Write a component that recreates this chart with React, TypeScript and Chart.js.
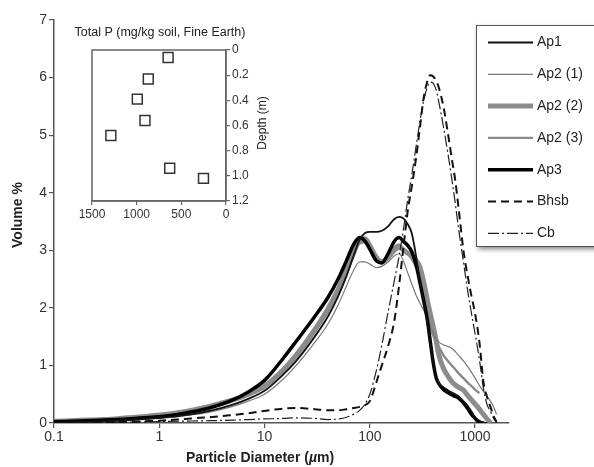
import React, { useEffect, useRef } from 'react';
import { Chart, registerables } from 'chart.js';

Chart.register(...registerables);

const FONT = '"Liberation Sans", Arial, Helvetica, sans-serif';

// Particle diameter (µm)
const diameters = [0.1, 0.2, 0.3, 0.5, 0.7, 1, 1.5, 2, 3, 5, 7, 10, 15, 20, 30, 40, 50, 60, 70, 80, 90, 100, 115, 130, 150, 170, 190, 210, 230, 250, 275, 300, 325, 350, 375, 400, 425, 450, 500, 550, 600, 650, 700, 775, 850, 925, 1000, 1100, 1200, 1300, 1400, 1500, 1600, 1800];

// Volume % per horizon
const ap1 = [0.01, 0.02, 0.03, 0.05, 0.07, 0.09, 0.12, 0.15, 0.21, 0.32, 0.42, 0.56, 0.84, 1.08, 1.5, 1.85, 2.2, 2.55, 2.9, 3.18, 3.3, 3.32, 3.32, 3.34, 3.42, 3.54, 3.58, 3.55, 3.45, 3.3, 2.9, 2.43, 2.1, 1.78, 1.4, 1.05, 0.8, 0.7, 0.62, 0.57, 0.53, 0.5, 0.46, 0.38, 0.3, 0.2, 0.1, 0.04, 0.01, 0, null, null, null, null];
const ap2a = [0.01, 0.02, 0.03, 0.04, 0.06, 0.08, 0.11, 0.14, 0.19, 0.29, 0.38, 0.5, 0.76, 1.0, 1.4, 1.72, 2.05, 2.38, 2.65, 2.8, 2.8, 2.76, 2.7, 2.72, 2.8, 2.9, 2.94, 2.8, 2.6, 2.42, 2.22, 2.08, 1.96, 1.84, 1.7, 1.57, 1.47, 1.41, 1.36, 1.33, 1.3, 1.24, 1.17, 1.08, 0.98, 0.88, 0.78, 0.65, 0.55, 0.46, 0.38, 0.28, 0.15, null];
const ap2b = [0.03, 0.05, 0.06, 0.09, 0.11, 0.14, 0.18, 0.22, 0.29, 0.4, 0.5, 0.64, 0.92, 1.18, 1.62, 1.98, 2.32, 2.65, 2.95, 3.18, 3.2, 3.08, 2.88, 2.8, 2.88, 3.0, 3.05, 3.0, 2.95, 2.9, 2.82, 2.7, 2.45, 2.15, 1.9, 1.68, 1.45, 1.2, 0.95, 0.82, 0.72, 0.66, 0.62, 0.57, 0.48, 0.4, 0.33, 0.24, 0.15, 0.07, 0, null, null, null];
const ap2c = [0.02, 0.04, 0.05, 0.08, 0.1, 0.13, 0.17, 0.21, 0.27, 0.38, 0.48, 0.62, 0.9, 1.15, 1.58, 1.94, 2.28, 2.62, 2.92, 3.12, 3.14, 3.04, 2.86, 2.82, 2.92, 3.05, 3.1, 3.02, 2.95, 2.85, 2.7, 2.5, 2.2, 1.9, 1.67, 1.52, 1.42, 1.33, 1.18, 1.08, 1.0, 0.93, 0.86, 0.78, 0.7, 0.64, 0.58, 0.52, null, null, null, null, null, null];
const ap3 = [0.02, 0.04, 0.05, 0.07, 0.09, 0.11, 0.15, 0.19, 0.26, 0.4, 0.54, 0.74, 1.12, 1.42, 1.85, 2.18, 2.5, 2.82, 3.1, 3.22, 3.16, 3.02, 2.82, 2.78, 2.95, 3.15, 3.22, 3.15, 3.08, 2.98, 2.75, 2.43, 2.12, 1.82, 1.42, 1.05, 0.8, 0.69, 0.58, 0.53, 0.49, 0.46, 0.43, 0.35, 0.25, 0.15, 0.08, 0.01, 0, null, null, null, null, null];
const bhsb = [0, 0.01, 0.015, 0.02, 0.03, 0.04, 0.06, 0.08, 0.1, 0.14, 0.17, 0.21, 0.25, 0.26, 0.24, 0.22, 0.22, 0.24, 0.26, 0.28, 0.31, 0.38, 0.7, 1.0, 1.35, 1.75, 2.4, 3.1, 3.7, 4.1, 4.6, 5.15, 5.65, 5.92, 6.04, 6.02, 5.95, 5.84, 5.5, 5.05, 4.6, 4.2, 3.7, 3.0, 2.55, 2.2, 1.9, 1.4, 0.72, 0.45, 0.28, 0.12, 0.02, null];
const cb = [0, 0.005, 0.01, 0.015, 0.02, 0.025, 0.03, 0.035, 0.04, 0.05, 0.06, 0.07, 0.08, 0.09, 0.08, 0.06, 0.07, 0.1, 0.15, 0.22, 0.33, 0.5, 0.9, 1.35, 1.95, 2.45, 2.9, 3.4, 3.9, 4.3, 4.8, 5.25, 5.6, 5.82, 5.92, 5.9, 5.8, 5.6, 5.15, 4.7, 4.25, 3.8, 3.35, 2.8, 2.3, 1.9, 1.55, 1.1, 0.6, 0.32, 0.2, 0.08, 0, null];

const seriesNames = ['Ap1', 'Ap2 (1)', 'Ap2 (2)', 'Ap2 (3)', 'Ap3', 'Bhsb', 'Cb'];
const seriesValues = [ap1, ap2a, ap2b, ap2c, ap3, bhsb, cb];

const xTickValues = [0.1, 1, 10, 100, 1000];
const xMin = 0.1;
const xMax = 2100;
const yMin = 0;
const yMax = 7;

// Inset: total P vs depth
const insetP = [648, 870, 993, 907, 1289, 630, 252];
const insetDepth = [0.06, 0.23, 0.39, 0.56, 0.68, 0.94, 1.02];

const seriesStyles = [
  { color: '#111111', width: 1.8, dash: [] as number[], order: 2 },
  { color: '#7a7a7a', width: 1.2, dash: [] as number[], order: 4 },
  { color: '#8c8c8c', width: 5, dash: [] as number[], order: 6 },
  { color: '#8a8a8a', width: 2.4, dash: [] as number[], order: 5 },
  { color: '#000000', width: 3.5, dash: [] as number[], order: 3 },
  { color: '#111111', width: 2, dash: [8, 5], order: 0 },
  { color: '#222222', width: 1.2, dash: [11, 3, 2, 3], order: 1 },
];

const legendPlugin = {
  id: 'boxLegend',
  afterDraw(chart: any) {
    const ctx = chart.ctx as CanvasRenderingContext2D;
    ctx.save();
    const bx = 476, by = 25, bw = 140, bh = 221;
    ctx.shadowColor = 'rgba(0,0,0,0.5)';
    ctx.shadowBlur = 5;
    ctx.shadowOffsetX = 2;
    ctx.shadowOffsetY = 3;
    ctx.fillStyle = '#ffffff';
    ctx.fillRect(bx, by, bw, bh);
    ctx.shadowColor = 'transparent';
    ctx.shadowBlur = 0;
    ctx.shadowOffsetX = 0;
    ctx.shadowOffsetY = 0;
    ctx.strokeStyle = '#555555';
    ctx.lineWidth = 1;
    ctx.strokeRect(bx + 0.5, by + 0.5, bw, bh);
    seriesNames.forEach((name, i) => {
      const y = 42.5 + i * 31.8;
      const st = seriesStyles[i];
      ctx.beginPath();
      ctx.setLineDash(st.dash);
      ctx.strokeStyle = st.color;
      ctx.lineWidth = st.width;
      ctx.moveTo(488, y);
      ctx.lineTo(533, y);
      ctx.stroke();
      ctx.setLineDash([]);
      ctx.fillStyle = '#222222';
      ctx.font = `14px ${FONT}`;
      ctx.textBaseline = 'middle';
      ctx.textAlign = 'left';
      ctx.fillText(name, 537, y);
    });
    ctx.restore();
  },
};

const axisTitlePlugin = {
  id: 'axisTitles',
  afterDraw(chart: any) {
    const ctx = chart.ctx as CanvasRenderingContext2D;
    ctx.save();
    ctx.fillStyle = '#222222';
    ctx.textBaseline = 'middle';
    // y title
    ctx.save();
    ctx.translate(18, 215);
    ctx.rotate(-Math.PI / 2);
    ctx.textAlign = 'center';
    ctx.font = `bold 14px ${FONT}`;
    ctx.fillText('Volume %', 0, 0);
    ctx.restore();
    // x title with italic mu
    const p1 = 'Particle Diameter (';
    const p2 = 'µ';
    const p3 = 'm)';
    ctx.font = `bold 14px ${FONT}`;
    const w1 = ctx.measureText(p1).width;
    const w3 = ctx.measureText(p3).width;
    ctx.font = `italic bold 14px ${FONT}`;
    const w2 = ctx.measureText(p2).width;
    const total = w1 + w2 + w3;
    let x = 260 - total / 2;
    const y = 458;
    ctx.textAlign = 'left';
    ctx.font = `bold 14px ${FONT}`;
    ctx.fillText(p1, x, y);
    x += w1;
    ctx.font = `italic bold 14px ${FONT}`;
    ctx.fillText(p2, x, y);
    x += w2;
    ctx.font = `bold 14px ${FONT}`;
    ctx.fillText(p3, x, y);
    ctx.restore();
  },
};

const insetPlugin = {
  id: 'insetDecor',
  afterDraw(chart: any) {
    const ctx = chart.ctx as CanvasRenderingContext2D;
    const a = chart.chartArea;
    ctx.save();
    ctx.strokeStyle = '#666666';
    ctx.lineWidth = 1.5;
    ctx.strokeRect(a.left, a.top, a.right - a.left, a.bottom - a.top);
    ctx.fillStyle = '#222222';
    ctx.font = `12.5px ${FONT}`;
    ctx.textAlign = 'center';
    ctx.textBaseline = 'middle';
    ctx.fillText('Total P (mg/kg soil, Fine Earth)', 120, 15);
    ctx.save();
    ctx.translate(223, 105);
    ctx.rotate(-Math.PI / 2);
    ctx.font = `12px ${FONT}`;
    ctx.fillText('Depth (m)', 0, 0);
    ctx.restore();
    ctx.restore();
  },
};

export default function App() {
  const mainRef = useRef<HTMLCanvasElement | null>(null);
  const insetRef = useRef<HTMLCanvasElement | null>(null);

  useEffect(() => {
    document.body.style.margin = '0';
    Chart.defaults.font.family = FONT;

    const datasets = seriesNames.map((name, i) => ({
      label: name,
      data: diameters.map((d, j) => ({ x: d, y: seriesValues[i][j] })),
      borderColor: seriesStyles[i].color,
      borderWidth: seriesStyles[i].width,
      borderDash: seriesStyles[i].dash,
      order: seriesStyles[i].order,
      pointRadius: 0,
      fill: false,
      cubicInterpolationMode: 'monotone' as const,
      spanGaps: false,
    }));

    const axisGrid = { drawOnChartArea: false, drawTicks: true, tickLength: 5, color: '#555555', lineWidth: 1.2 };
    const axisBorder = { display: true, color: '#555555', width: 1.5 };

    const main = new Chart(mainRef.current as HTMLCanvasElement, {
      type: 'line',
      data: { datasets: datasets as any },
      options: {
        animation: false,
        responsive: false,
        devicePixelRatio: 1,
        layout: { padding: { left: 0, right: 85, top: 20, bottom: 0 } },
        plugins: { legend: { display: false }, tooltip: { enabled: false } },
        elements: { point: { radius: 0 } },
        scales: {
          x: {
            type: 'logarithmic',
            min: xMin,
            max: xMax,
            afterBuildTicks: (s: any) => {
              s.ticks = xTickValues.map((v) => ({ value: v }));
            },
            afterFit: (s: any) => {
              s.height = 44;
            },
            ticks: {
              callback: (v: any) => String(v),
              font: { size: 14 },
              color: '#333333',
              maxRotation: 0,
              autoSkip: false,
              padding: 1,
            },
            grid: axisGrid,
            border: axisBorder,
          },
          y: {
            type: 'linear',
            min: yMin,
            max: yMax,
            afterFit: (s: any) => {
              s.width = 54;
            },
            ticks: { stepSize: 1, font: { size: 14 }, color: '#333333', padding: 2 },
            grid: axisGrid,
            border: axisBorder,
          },
        },
      } as any,
      plugins: [axisTitlePlugin, legendPlugin],
    });

    const insetGrid = { drawOnChartArea: false, drawTicks: true, tickLength: 4, color: '#666666', lineWidth: 1.2 };
    const insetBorder = { display: true, color: '#666666', width: 1.5 };

    const inset = new Chart(insetRef.current as HTMLCanvasElement, {
      type: 'scatter',
      data: {
        datasets: [
          {
            label: 'Total P',
            data: insetP.map((p, i) => ({ x: p, y: insetDepth[i] })),
            pointStyle: 'rect',
            pointRadius: 7,
            pointBackgroundColor: '#ffffff',
            pointBorderColor: '#333333',
            pointBorderWidth: 1.5,
          },
        ],
      },
      options: {
        animation: false,
        responsive: false,
        devicePixelRatio: 1,
        layout: { padding: { left: 52, top: 32, right: 34, bottom: 8 } },
        plugins: { legend: { display: false }, tooltip: { enabled: false } },
        scales: {
          x: {
            type: 'linear',
            reverse: true,
            min: 0,
            max: 1500,
            afterFit: (s: any) => {
              s.height = 24;
            },
            ticks: {
              stepSize: 500,
              font: { size: 12 },
              color: '#333333',
              padding: 2,
              maxRotation: 0,
              callback: (v: any) => String(Math.round(Number(v))),
            },
            grid: insetGrid,
            border: insetBorder,
          },
          y: {
            type: 'linear',
            position: 'right',
            reverse: true,
            min: 0,
            max: 1.2,
            afterFit: (s: any) => {
              s.width = 40;
            },
            ticks: {
              stepSize: 0.2,
              font: { size: 12 },
              color: '#333333',
              padding: 2,
              callback: (v: any) => (Math.abs(Number(v)) < 1e-9 ? '0' : Number(v).toFixed(1)),
            },
            grid: insetGrid,
            border: insetBorder,
          },
        },
      } as any,
      plugins: [insetPlugin],
    });

    return () => {
      main.destroy();
      inset.destroy();
    };
  }, []);

  return (
    <div style={{ position: 'relative', width: 594, height: 467, background: '#ffffff' }}>
      <canvas ref={mainRef} width={594} height={467} style={{ position: 'absolute', left: 0, top: 0 }} />
      <canvas ref={insetRef} width={260} height={215} style={{ position: 'absolute', left: 40, top: 18 }} />
    </div>
  );
}
